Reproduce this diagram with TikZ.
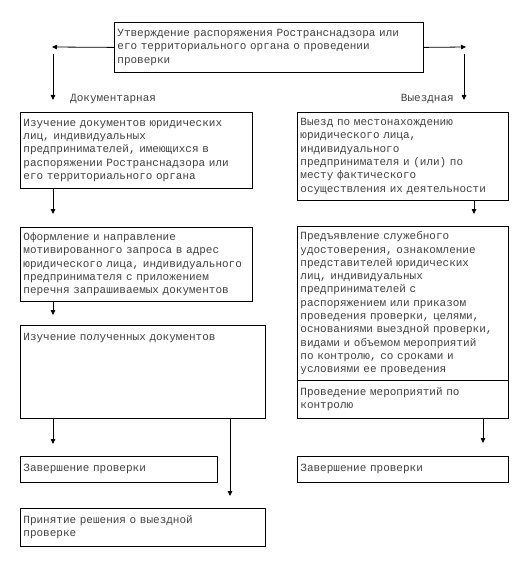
\documentclass[tikz,border=0pt]{standalone}
\usepackage{fontspec}
\newfontfamily\cour{Liberation Mono}
\usetikzlibrary{arrows.meta}
\tikzset{
  box/.style={draw=black, line width=0.8pt, anchor=north west, inner xsep=3pt, inner ysep=2pt,
    align=left, font=\cour\fontsize{11}{13.3}\selectfont, text=black!75},
  lbl/.style={inner sep=0pt, font=\cour\fontsize{11}{13.3}\selectfont, text=black!75},
  arr/.style={line width=0.8pt, -{Triangle[length=5pt,width=4.5pt]}}
}
\begin{document}
\begin{tikzpicture}[x=1pt,y=-1pt]
\useasboundingbox (0,0) rectangle (528,564);
% boxes
\node[box, minimum width=309pt, minimum height=50pt, text width=303pt] (t) at (114,22)
  {Утверждение распоряжения Ространснадзора или\\его территориального органа о проведении\\проверки};
\node[box, minimum width=232pt, minimum height=76pt, text width=226pt] (L1) at (20,112)
  {Изучение документов юридических\\лиц, индивидуальных\\предпринимателей, имеющихся в\\распоряжении Ространснадзора или\\его территориального органа};
\node[box, minimum width=232pt, minimum height=74pt, text width=226pt] (L2) at (20,227)
  {Оформление и направление\\мотивированного запроса в адрес\\юридического лица, индивидуального\\предпринимателя с приложением\\перечня запрашиваемых документов};
\node[box, minimum width=245pt, text width=239pt, text height=13pt, text depth=76pt] (L3) at (20,325)
  {Изучение полученных документов};
\node[box, minimum width=197pt, minimum height=26pt, text width=191pt] (LZ) at (20,456)
  {Завершение проверки};
\node[box, minimum width=245pt, minimum height=38pt, text width=239pt] (LP) at (20,508)
  {Принятие решения о выездной\\проверке};
\node[box, minimum width=211pt, minimum height=88pt, text width=205pt] (R1) at (297,112)
  {Выезд по местонахождению\\юридического лица,\\индивидуального\\предпринимателя и (или) по\\месту фактического\\осуществления их деятельности};
\node[box, minimum width=211pt, minimum height=154pt, text width=205pt] (R2) at (297,226)
  {Предъявление служебного\\удостоверения, ознакомление\\представителей юридических\\лиц, индивидуальных\\предпринимателей с\\распоряжением или приказом\\проведения проверки, целями,\\основаниями выездной проверки,\\видами и объемом мероприятий\\по контролю, со сроками и\\условиями ее проведения};
\node[box, minimum width=211pt, minimum height=38pt, text width=205pt] (R3) at (297,380)
  {Проведение мероприятий по\\контролю};
\node[box, minimum width=211pt, minimum height=26pt, text width=205pt] (RZ) at (297,456)
  {Завершение проверки};
% labels
\node[lbl, anchor=west] (ld) at (70,99) {Документарная};
\node[lbl, anchor=east] (lv) at (454,99) {Выездная};
% coordinates
\coordinate (hL) at (52,47);
\coordinate (hR) at (466,47);
\coordinate (vLa) at (53,54);
\coordinate (vLb) at (53,100);
\coordinate (vRa) at (464,54);
\coordinate (vRb) at (464,100);
\coordinate (e1) at (53,214);
\coordinate (e2) at (53,315);
\coordinate (e3) at (53,444);
\coordinate (e4) at (230,496);
\coordinate (e5) at (474,214);
\coordinate (e6) at (483,443);
% connectors
\draw[arr] (t.west) -- (hL);
\draw[arr] (t.east) -- (hR);
\draw[arr] (vLa) -- (vLb);
\draw[arr] (vRa) -- (vRb);
\draw[arr] (L1.south -| e1) -- (e1);
\draw[arr] (L2.south -| e2) -- (e2);
\draw[arr] (L3.south -| e3) -- (e3);
\draw[arr] (L3.south -| e4) -- (e4);
\draw[arr] (R1.south -| e5) -- (e5);
\draw[arr] (R3.south -| e6) -- (e6);
\end{tikzpicture}
\end{document}
